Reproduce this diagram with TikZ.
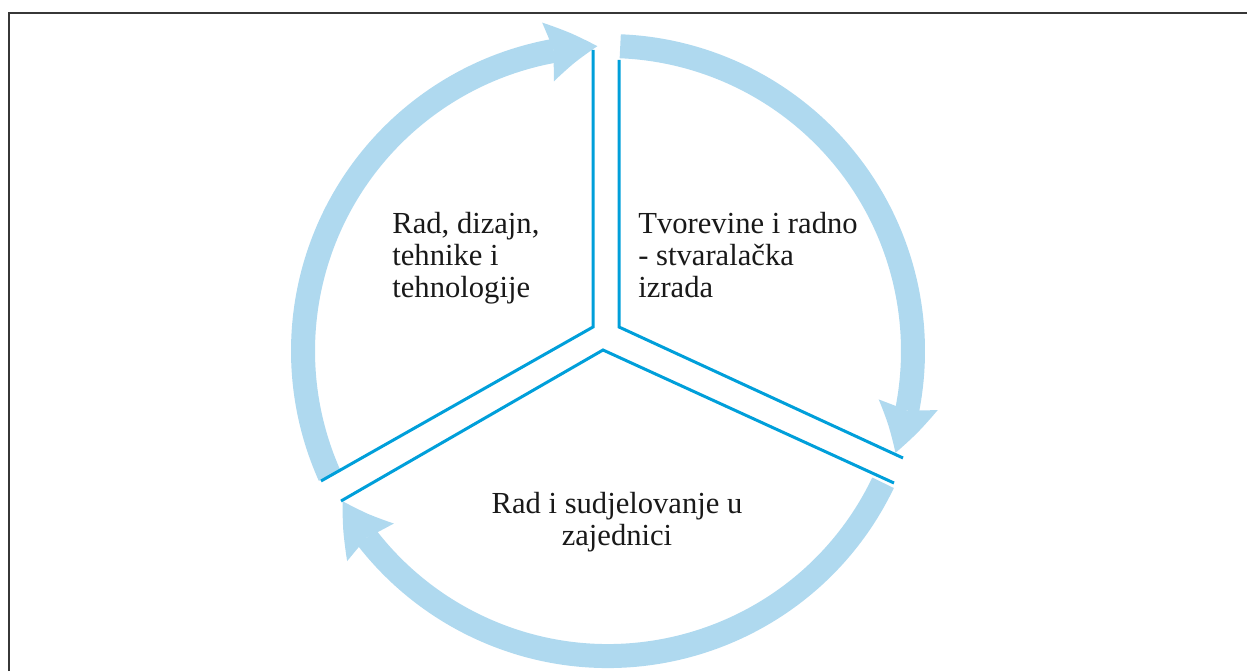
\documentclass[tikz,border=0pt]{standalone}
\usepackage{fontspec}
\setmainfont{Liberation Serif}
\usepackage{tikz}
\usetikzlibrary{calc,arrows.meta,bending}
\definecolor{ringblue}{RGB}{175,217,239}
\definecolor{lineblue}{RGB}{0,159,218}
\definecolor{framegray}{RGB}{55,55,55}
\def\ringarc[#1](#2:#3){\draw[#1] ($(\cx,\cy)+({\rad*cos(#2)},{\rad*sin(#2)})$) arc (#2:#3:\rad);}

\begin{document}
\begin{tikzpicture}[x=0.5pt,y=0.5pt,
	ring/.style={ringblue,line width=12pt,-{Stealth[length=25pt,width=30pt,inset=3pt,line width=0pt,bend]}},
	arm/.style={lineblue,line width=1.5pt,line join=miter},
	lbl/.style={inner sep=0pt,text=black!90,font=\fontsize{15.3}{16}\selectfont}]
				%%%%% START %%%%%
				\def\cx{608}
				\def\cy{320}
				\def\rad{305}
				
				\useasboundingbox (0,0) rectangle (1247,671);
				\draw[framegray,line width=1.1pt] (9,0) -- (9,658) -- (1247,658);

				\ringarc[ring](87.7:-19.5)
				\ringarc[ring](-25.6:-150.5)
				\ringarc[ring](204.2:92)

				\draw[arm] (593,621) -- (593,344) -- (321,190);
				\draw[arm] (619,611) -- (619,344) -- (903,213);
				\draw[arm] (341,170) -- (603,321) -- (894,188);

				% base = last line here
				\node[lbl,align=left,anchor=base west] (tech) at (392,374) {Rad, dizajn,\\tehnike i\\tehnologije};
				\node[lbl,align=left,anchor=base west] (prod) at (638,374) {Tvorevine i radno\\- stvaralačka\\izrada};
				\node[lbl,align=center,anchor=base] (comm) at (617,126) {Rad i sudjelovanje u\\zajednici};
				%%%%% START %%%%%
\end{tikzpicture}
\end{document}
